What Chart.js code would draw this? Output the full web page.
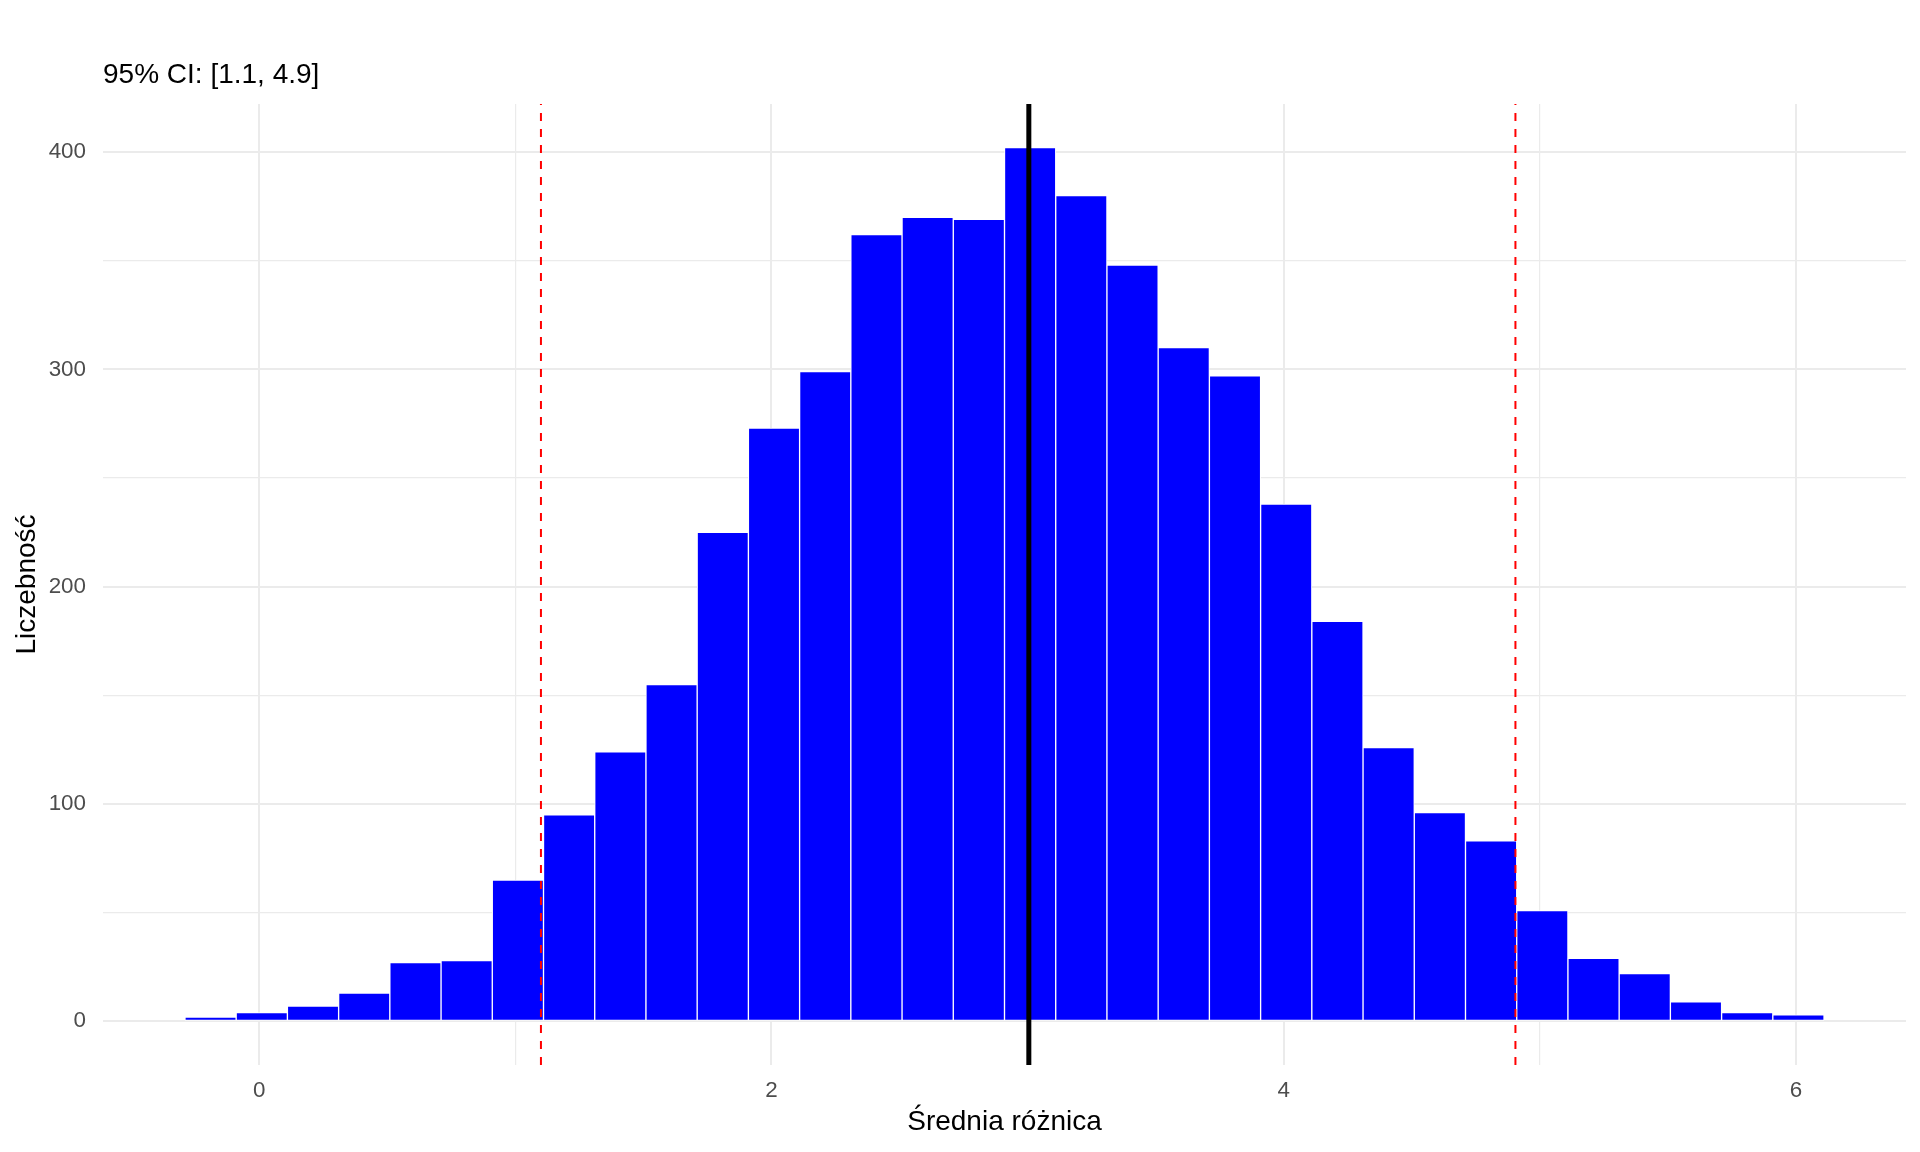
<!DOCTYPE html>
<html lang="pl">
<head>
    <meta charset="UTF-8">
    <title>Rozkład średniej różnicy</title>
    <script src="https://cdn.jsdelivr.net/npm/chart.js"></script>
    <style>
        html, body {
            margin: 0;
            padding: 0;
            background-color: #ffffff;
        }

        canvas {
            display: block;
        }
    </style>
</head>
<body>
    <canvas id="chart" width="1920" height="1152"></canvas>

    <script>
        // histogram bins (width 0.2) - centres and counts
        const binCenters = [-0.19, 0.01, 0.21, 0.41, 0.61, 0.81, 1.01, 1.21, 1.41, 1.61, 1.81, 2.01,
            2.21, 2.41, 2.61, 2.81, 3.01, 3.21, 3.41, 3.61, 3.81, 4.01, 4.21, 4.41,
            4.61, 4.81, 5.01, 5.21, 5.41, 5.61, 5.81, 6.01];
        const counts = [2, 4, 7, 13, 27, 28, 65, 95, 124, 155, 225, 273,
            299, 362, 370, 369, 402, 380, 348, 310, 297, 238, 184, 126,
            96, 83, 51, 29, 22, 9, 4, 3];

        // reference lines
        const ciBounds = [1.1, 4.905];
        const meanDiff = 3.005;

        // labelled ticks (the others get only a thin grid line)
        const xTickLabels = [0, 2, 4, 6];
        const yTickLabels = [0, 100, 200, 300, 400];

        const fontFamily = "'Liberation Sans', Arial, sans-serif";
        const gridColor = '#ebebeb';

        const refLines = {
            id: 'refLines',
            afterDatasetsDraw(chart) {
                const { ctx, chartArea, scales } = chart;
                ctx.save();
                ctx.lineCap = 'butt';

                ctx.strokeStyle = '#ff0000';
                ctx.lineWidth = 2;
                ctx.setLineDash([8, 8]);
                ciBounds.forEach(v => {
                    const px = scales.x.getPixelForValue(v);
                    ctx.beginPath();
                    ctx.moveTo(px, chartArea.bottom);
                    ctx.lineTo(px, chartArea.top);
                    ctx.stroke();
                });

                ctx.setLineDash([]);
                ctx.strokeStyle = '#000000';
                ctx.lineWidth = 5;
                const mx = scales.x.getPixelForValue(meanDiff);
                ctx.beginPath();
                ctx.moveTo(mx, chartArea.bottom);
                ctx.lineTo(mx, chartArea.top);
                ctx.stroke();

                ctx.restore();
            }
        };

        const ctx = document.getElementById('chart').getContext('2d');

        new Chart(ctx, {
            type: 'bar',
            data: {
                datasets: [{
                    label: 'Liczebność',
                    data: binCenters.map((x, i) => ({ x: x, y: counts[i] })),
                    backgroundColor: '#0000ff',
                    borderColor: '#ffffff',
                    borderWidth: 1,
                    borderSkipped: false,
                    barPercentage: 1,
                    categoryPercentage: 1
                }]
            },
            options: {
                responsive: false,
                devicePixelRatio: 1,
                animation: false,
                layout: {
                    padding: { left: 0, right: 14, top: 0, bottom: 0 }
                },
                plugins: {
                    legend: { display: false },
                    tooltip: { enabled: false },
                    title: {
                        display: true,
                        text: '95% CI: [1.1, 4.9]',
                        align: 'start',
                        fullSize: false,
                        color: '#000000',
                        font: { family: fontFamily, size: 28, weight: 'normal' },
                        padding: { top: 58.5, bottom: 11.9 }
                    }
                },
                scales: {
                    x: {
                        type: 'linear',
                        min: -0.61,
                        max: 6.43,
                        offset: false,
                        border: { display: false },
                        grid: {
                            offset: false,
                            drawTicks: false,
                            color: gridColor,
                            lineWidth: c => xTickLabels.includes(c.tick.value) ? 2 : 1.2
                        },
                        ticks: {
                            stepSize: 1,
                            includeBounds: false,
                            autoSkip: false,
                            maxRotation: 0,
                            padding: 12,
                            color: '#4d4d4d',
                            font: { family: fontFamily, size: 22.4 },
                            callback: v => xTickLabels.includes(v) ? String(v) : ''
                        },
                        title: {
                            display: true,
                            text: 'Średnia różnica',
                            color: '#000000',
                            font: { family: fontFamily, size: 28 },
                            padding: { top: 0, bottom: 13 }
                        },
                        afterFit: scale => { scale.height = 87; }
                    },
                    y: {
                        type: 'linear',
                        min: -20.1,
                        max: 422.1,
                        border: { display: false },
                        grid: {
                            drawTicks: false,
                            color: gridColor,
                            lineWidth: c => yTickLabels.includes(c.tick.value) ? 2 : 1.2
                        },
                        ticks: {
                            stepSize: 50,
                            includeBounds: false,
                            padding: 17,
                            color: '#4d4d4d',
                            font: { family: fontFamily, size: 22.4 },
                            callback: v => yTickLabels.includes(v) ? String(v) : ''
                        },
                        title: {
                            display: true,
                            text: 'Liczebność',
                            color: '#000000',
                            font: { family: fontFamily, size: 28 },
                            padding: { top: 10, bottom: 0 }
                        },
                        afterFit: scale => { scale.width = 103; }
                    }
                }
            },
            plugins: [refLines]
        });
    </script>
</body>
</html>
